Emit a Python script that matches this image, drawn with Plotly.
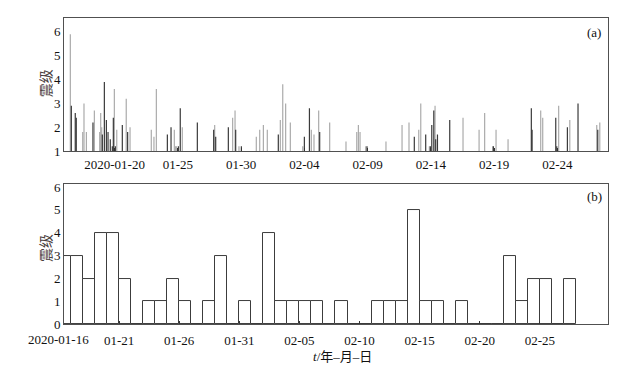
import plotly.graph_objects as go
import pandas as pd

# ---------------- data ----------------
# (a) individual events: time in days after 2020-01-16 00:00, magnitude
dark_days = [0.58, 0.89, 0.97, 2.29, 3.03, 3.19, 3.35, 3.48, 3.66, 3.82, 3.90, 4.06, 4.61, 5.03,
             8.17, 8.46, 9.04, 9.19, 10.54, 11.83, 11.99, 12.99, 13.57, 14.02, 16.94, 19.0, 19.4,
             20.21, 23.95, 27.69, 28.59, 28.96, 29.07, 29.23, 29.38, 29.52, 30.49, 33.94, 36.94,
             37.0, 38.87, 38.95, 39.79, 40.63, 42.19]
dark_mag = [2.9, 2.6, 2.4, 2.2, 1.7, 3.9, 2.3, 1.8, 1.5, 1.2, 2.4, 1.2, 2.1, 1.8,
            1.7, 2.0, 1.2, 2.8, 2.2, 1.9, 1.6, 2.0, 1.9, 1.2, 1.7, 1.6, 2.8,
            1.8, 1.2, 1.6, 1.7, 1.2, 2.1, 2.7, 1.5, 1.7, 2.3, 1.2, 2.8,
            1.9, 2.4, 1.2, 2.0, 3.0, 1.9]
light_days = [0.50, 1.48, 1.58, 1.77, 2.40, 2.82, 2.90, 2.98, 3.98, 4.17, 4.92, 5.22, 6.90, 7.11,
              7.30, 8.72, 8.80, 8.88, 9.35, 11.91, 13.33, 13.52, 13.83, 15.2, 15.47, 15.76, 16.07,
              17.10, 17.29, 17.52, 17.89, 18.87, 19.55, 19.76, 20.13, 21.0, 22.29, 23.14, 23.27,
              23.4, 23.85, 25.45, 26.72, 27.27, 28.04, 28.2, 28.88, 29.33, 31.54, 32.81, 33.25,
              33.89, 34.15, 35.1, 37.68, 37.84, 39.1, 39.98, 42.11, 42.35]
light_mag = [5.9, 1.8, 3.0, 1.8, 2.7, 1.8, 2.6, 2.0, 3.6, 1.9, 3.2, 2.0, 1.9, 1.6,
             3.6, 1.9, 1.2, 1.2, 2.0, 2.1, 2.4, 2.7, 1.2, 1.6, 1.9, 2.1, 1.9,
             2.3, 3.8, 3.0, 2.2, 1.2, 1.9, 1.7, 2.7, 2.2, 1.4, 1.8, 2.1,
             1.8, 1.2, 1.4, 2.1, 2.2, 1.9, 3.0, 1.2, 2.9, 2.4, 1.9, 2.6,
             1.2, 1.9, 1.5, 2.7, 2.4, 2.9, 2.3, 2.1, 2.2]

# (b) daily counts starting 2020-01-16
daily_counts = [3, 3, 2, 4, 4, 2, 0, 1, 1, 2, 1, 0, 1, 3, 0, 1, 0, 4, 1, 1, 1, 1, 0,
                1, 0, 0, 1, 1, 1, 5, 1, 1, 0, 1, 0, 0, 0, 3, 1, 2, 2, 0, 2]

ticks_a = ["2020-01-20", "2020-01-25", "2020-01-30", "2020-02-04", "2020-02-09",
           "2020-02-14", "2020-02-19", "2020-02-24"]
ticktext_a = ["2020-01-20", "01-25", "01-30", "02-04", "02-09", "02-14", "02-19", "02-24"]
ticks_b = ["2020-01-21", "2020-01-26", "2020-01-31", "2020-02-05", "2020-02-10",
           "2020-02-15", "2020-02-20", "2020-02-25"]
ticktext_b = ["01-21", "01-26", "01-31", "02-05", "02-10", "02-15", "02-20", "02-25"]
first_tick_b = "2020-01-16"

# ---------------- build ----------------
t0 = pd.Timestamp("2020-01-16")
W, H = 643, 374


def stems(days, mags):
    xs, ys = [], []
    for d, m in zip(days, mags):
        t = t0 + pd.Timedelta(days=d)
        xs += [t, t, None]
        ys += [1, m, None]
    return xs, ys


fig = go.Figure()
lx, ly = stems(light_days, light_mag)
dx, dy = stems(dark_days, dark_mag)
fig.add_trace(go.Scatter(x=lx, y=ly, mode="lines", line=dict(color="#ababab", width=1.2),
                         xaxis="x", yaxis="y", showlegend=False, hoverinfo="skip"))
fig.add_trace(go.Scatter(x=dx, y=dy, mode="lines", line=dict(color="#3a3a3a", width=1.2),
                         xaxis="x", yaxis="y", showlegend=False, hoverinfo="skip"))

bar_x = [t0 + pd.Timedelta(days=k, hours=12) for k in range(len(daily_counts))]
fig.add_trace(go.Bar(x=bar_x, y=daily_counts, width=86400000 * 1.0,
                     marker=dict(color="white", line=dict(color="#3c3c3c", width=1)),
                     xaxis="x2", yaxis="y2", showlegend=False, hoverinfo="skip"))

FONT = "Liberation Serif, Times New Roman, serif"
CJK = "Noto Sans CJK SC"
axcol = "#505050"

xa = dict(showline=True, mirror=True, linecolor=axcol, linewidth=1, showgrid=False,
          zeroline=False, ticks="inside", ticklen=3, tickcolor="#333",
          tickfont=dict(family=FONT, size=13, color="#111"))
ya = dict(showline=True, mirror=True, linecolor=axcol, linewidth=1, showgrid=False,
          zeroline=False, ticks="", tickfont=dict(family=FONT, size=13, color="#111"),
          dtick=1)

fig.update_layout(
    width=W, height=H,
    margin=dict(l=0, r=0, t=0, b=0),
    paper_bgcolor="white", plot_bgcolor="white",
    bargap=0,
    xaxis=dict(xa, domain=[64 / W, 608 / W], anchor="y", type="date",
               range=["2020-01-16", "2020-02-28"], tickvals=ticks_a, ticktext=ticktext_a,
               ticklabelstandoff=1),
    yaxis=dict(ya, domain=[1 - 152 / H, 1 - 14 / H], anchor="x", range=[1, 6.6],
               tickvals=[1, 2, 3, 4, 5, 6]),
    xaxis2=dict(xa, domain=[64 / W, 608 / W], anchor="y2", type="date",
                range=[t0 + pd.Timedelta(days=0.416), t0 + pd.Timedelta(days=45.67)],
                tickvals=ticks_b, ticktext=ticktext_b, ticklabelstandoff=4),
    yaxis2=dict(ya, domain=[1 - 331 / H, 1 - 186 / H], anchor="x2", range=[0, 6.13],
                tickvals=[0, 1, 2, 3, 4, 5, 6]),
)


def ann(text, px, py, size=13, family=FONT, color="#111", angle=0):
    return dict(text=text, x=px / W, y=1 - py / H, xref="paper", yref="paper",
                xanchor="center", yanchor="middle", showarrow=False, textangle=angle,
                font=dict(family=family, size=size, color=color))


annos = [
    ann("(a)", 594, 29),
    ann("(b)", 594, 199),
    ann("震级", 45, 82, size=14, family=CJK, color="#4a4040", angle=-90),
    ann("震级", 45, 252, size=14, family=CJK, color="#4a4040", angle=-90),
    ann("<i>t</i>/年–月–日", 342, 364, family=FONT + ", " + CJK),
    ann(first_tick_b, 58, 347),
]
fig.update_layout(annotations=annos)

css = ("var s=document.createElement('style');"
       "s.innerHTML='html,body{margin:0;padding:0;width:643px;height:374px;overflow:hidden;}';"
       "document.head.appendChild(s);")
fig.write_html("out.html", config={"displayModeBar": False}, post_script=css)
